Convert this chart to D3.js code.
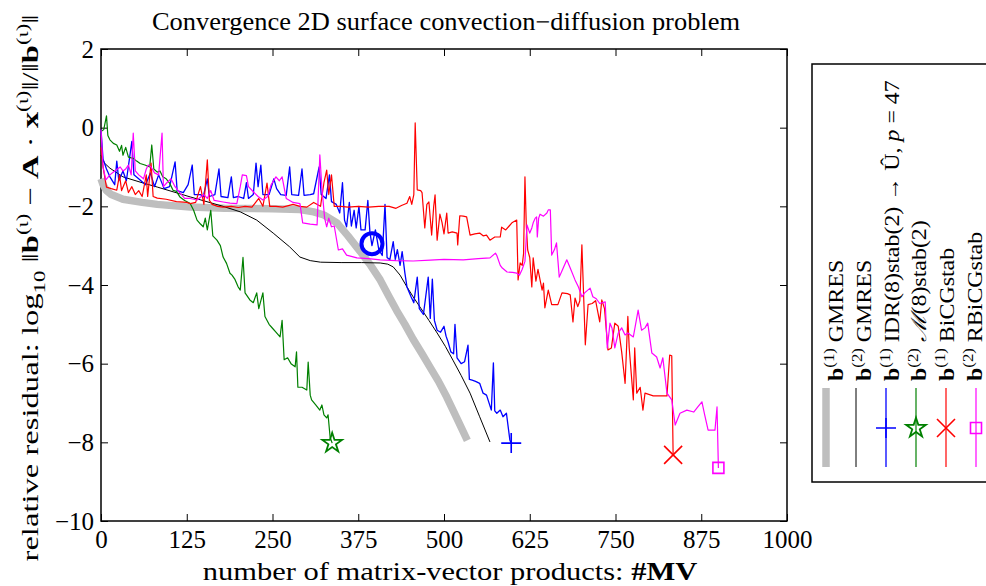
<!DOCTYPE html>
<html><head><meta charset="utf-8">
<script src="https://cdn.jsdelivr.net/npm/d3@7"></script>
<style>body{margin:0;background:#fff}svg{display:block}text{font-family:"Liberation Serif","Times New Roman",serif;fill:#000}</style>
</head><body><div id="chart"></div>
<script>
const xTicks = [0,125,250,375,500,625,750,875,1000];
const yTicks = [2,0,-2,-4,-6,-8,-10];

const gmresB1 = [[0,-1.3],[3,-1.45],[8,-1.6],[15,-1.7],[32,-1.82],[60,-1.9],[82,-1.95],[130,-2.02],[180,-2.05],[250,-2.06],[290,-2.08],[310,-2.14],[325,-2.22],[344,-2.42],[360,-2.75],[378,-3.15],[393,-3.5],[407,-3.87],[420,-4.3],[431,-4.65],[443,-5.0],[455,-5.38],[468,-5.75],[480,-6.1],[492,-6.45],[504,-6.85],[519,-7.4],[534,-7.95]];

const gmresB2 = [[0,-0.7],[5,-0.9],[13,-1.03],[32,-1.25],[60,-1.4],[82,-1.51],[130,-1.76],[178,-2.0],[203,-2.14],[227,-2.35],[251,-2.68],[275,-3.03],[290,-3.29],[305,-3.38],[320,-3.42],[350,-3.43],[380,-3.43],[407,-3.44],[418,-3.47],[426,-3.54],[436,-3.75],[446,-4.05],[455,-4.3],[465,-4.56],[478,-4.9],[490,-5.22],[502,-5.56],[513,-5.91],[525,-6.3],[538,-6.75],[552,-7.35],[567,-7.99]];

const idrB1 = [[0,-0.05],[3,-0.8],[8,-1.05],[13,-1.25],[20,-1.45],[23,-0.85],[26,-1.35],[32,-1.1],[37,-1.35],[45,-0.35],[48,-1.2],[57,-1.33],[65,-1.45],[72,-1.15],[78,-1.5],[84,-1.2],[92,-1.55],[100,-1.5],[108,-0.87],[111,-1.6],[120,-1.65],[127,-1.45],[133,-0.95],[136,-1.7],[145,-1.7],[149,-1.76],[155,-1.3],[158,-1.75],[166,-1.7],[172,-1.05],[175,-1.75],[185,-1.78],[190,-1.25],[193,-1.78],[200,-1.75],[208,-1.8],[212,-1.4],[215,-1.8],[222,-1.7],[226,-0.9],[229,-1.5],[233,-0.95],[236,-1.7],[245,-1.7],[252,-1.3],[256,-1.55],[262,-1.7],[270,-1.72],[275,-1.0],[278,-1.7],[288,-1.72],[293,-1.05],[296,-1.72],[305,-1.7],[310,-1.68],[318,-1.0],[321,-1.7],[328,-1.8],[333,-1.2],[336,-1.88],[343,-1.95],[348,-2.17],[352,-1.4],[355,-2.35],[358,-2.52],[362,-1.9],[365,-2.5],[369,-2.1],[372,-2.55],[376,-2.0],[379,-2.6],[385,-2.6],[389,-1.85],[392,-2.65],[395,-3.0],[400,-2.6],[405,-3.1],[410,-3.25],[414,-1.95],[417,-3.3],[421,-3.36],[426,-2.9],[429,-3.35],[432,-3.1],[436,-3.5],[439,-3.15],[443,-3.7],[446,-4.05],[452,-4.3],[456,-4.45],[461,-3.8],[464,-4.6],[470,-4.75],[477,-3.8],[480,-4.85],[483,-3.85],[486,-4.9],[490,-5.15],[495,-5.2],[500,-5.05],[503,-5.3],[506,-5.45],[510,-5.7],[514,-5.75],[516,-5.0],[519,-5.85],[525,-6.0],[530,-5.95],[535,-5.53],[537,-6.4],[541,-6.42],[546,-6.45],[552,-6.5],[557,-6.75],[562,-6.8],[569,-7.18],[572,-5.98],[574,-7.2],[577,-7.26],[582,-7.18],[586,-7.35],[591,-7.26],[596,-7.94],[598,-8.02]];

const mstabB2 = [[0,-0.1],[4,-0.05],[8,0.3],[10,-0.2],[13,-0.31],[18,-0.4],[23,-0.44],[27,-0.6],[30,-0.45],[32,-0.7],[36,-0.5],[40,-0.75],[47,-0.78],[52,-0.85],[57,-0.91],[64,-0.95],[71,-1.0],[74,-0.44],[77,-1.05],[82,-1.13],[86,-1.1],[90,-1.25],[95,-1.3],[100,-1.41],[105,-1.59],[110,-1.62],[115,-1.76],[122,-1.85],[130,-1.93],[135,-2.1],[140,-2.35],[145,-2.45],[149,-2.52],[152,-2.3],[155,-2.6],[160,-2.1],[163,-2.75],[169,-2.86],[174,-3.0],[178,-3.29],[183,-3.45],[188,-3.7],[191,-3.75],[195,-3.85],[200,-4.05],[203,-4.13],[207,-3.3],[210,-4.2],[217,-4.38],[222,-4.45],[227,-4.2],[230,-4.6],[236,-4.2],[239,-4.8],[245,-5.0],[250,-5.1],[255,-5.2],[261,-5.32],[264,-4.9],[267,-5.9],[272,-5.85],[277,-6.0],[283,-6.08],[285,-5.7],[287,-6.6],[293,-6.6],[300,-6.67],[302,-5.96],[305,-6.8],[307,-6.92],[313,-7.05],[319,-7.18],[322,-7.05],[325,-7.3],[329,-7.38],[331,-7.3],[334,-7.87],[337,-8.02]];

const bicgB1 = [[0,-0.5],[3,-1.0],[8,-1.51],[15,-1.55],[23,-1.59],[27,-1.2],[30,-1.6],[36,-1.35],[40,-1.65],[45,-1.5],[50,-1.7],[55,-1.6],[60,-1.75],[66,-1.2],[68,-1.75],[73,-0.9],[76,-1.75],[82,-1.79],[95,-1.82],[110,-1.88],[125,-1.9],[130,-1.93],[138,-1.9],[145,-1.5],[150,-1.95],[155,-0.82],[158,-1.85],[162,-1.95],[170,-2.0],[178,-2.02],[190,-2.0],[200,-2.03],[210,-2.0],[220,-2.02],[230,-1.8],[236,-2.0],[242,-1.41],[246,-2.0],[255,-2.0],[265,-2.02],[280,-1.95],[290,-2.0],[300,-2.02],[310,-1.9],[320,-2.0],[325,-1.4],[329,-1.08],[332,-1.7],[336,-1.2],[340,-2.0],[350,-2.0],[360,-2.02],[375,-2.0],[390,-2.02],[405,-2.0],[420,-2.0],[430,-2.05],[438,-1.98],[446,-1.92],[450,-1.75],[453,-1.95],[456,-1.7],[458,0.12],[461,-1.58],[466,-1.6],[468,-1.65],[472,-2.55],[475,-1.95],[478,-1.89],[482,-2.73],[485,-2.0],[487,-1.71],[490,-2.86],[494,-2.2],[497,-2.4],[500,-2.7],[504,-2.17],[506,-2.68],[512,-2.65],[519,-2.68],[520,-2.98],[523,-2.24],[528,-2.25],[533,-2.27],[538,-2.73],[545,-2.7],[552,-2.68],[557,-2.75],[562,-2.73],[567,-2.86],[574,-2.78],[582,-2.78],[584,-2.53],[590,-2.6],[595,-2.5],[599,-2.42],[606,-2.35],[608,-3.87],[611,-3.44],[614,-3.5],[616,-3.2],[618,-1.25],[620,-2.5],[622,-3.11],[625,-3.3],[628,-4.05],[630,-3.31],[634,-3.9],[637,-3.6],[643,-4.13],[645,-3.95],[647,-4.58],[652,-4.13],[657,-4.5],[666,-4.5],[672,-4.2],[680,-4.22],[684,-4.25],[688,-4.94],[691,-4.33],[695,-4.55],[698,-4.4],[701,-2.98],[706,-5.52],[710,-4.5],[716,-4.47],[721,-4.4],[727,-4.94],[730,-4.38],[734,-4.6],[739,-5.65],[744,-5.6],[749,-4.97],[754,-5.05],[759,-5.7],[764,-6.5],[768,-4.8],[770,-5.6],[776,-6.92],[778,-5.6],[781,-6.75],[786,-6.6],[790,-7.18],[793,-6.75],[805,-6.82],[825,-6.82],[829,-5.78],[832,-5.8],[834,-8.32]];

const rbicgB2 = [[0,-0.05],[3,-1.0],[7,-1.33],[13,-1.2],[20,-1.1],[28,-1.0],[32,-1.1],[36,-1.05],[40,-0.95],[44,-1.2],[47,-0.14],[50,-1.1],[55,-1.2],[62,-1.3],[66,-1.05],[69,-0.95],[73,-1.0],[78,-1.15],[84,-1.2],[89,-0.14],[91,-1.5],[96,-1.4],[102,-1.3],[108,-1.5],[115,-1.66],[122,-1.8],[130,-1.8],[140,-1.84],[150,-1.7],[155,-1.8],[160,-1.6],[165,-1.85],[178,-1.89],[188,-1.92],[198,-1.93],[203,-1.5],[206,-1.2],[212,-1.22],[215,-1.5],[222,-1.63],[229,-1.75],[236,-1.84],[243,-1.75],[248,-1.45],[255,-1.25],[260,-1.35],[264,-1.25],[270,-1.8],[280,-1.9],[290,-1.93],[294,-2.42],[305,-2.45],[315,-2.47],[319,-0.69],[322,-1.53],[326,-2.3],[329,-2.52],[332,-2.3],[336,-2.52],[340,-2.5],[346,-3.11],[352,-3.08],[358,-3.24],[373,-3.31],[390,-3.33],[407,-3.36],[430,-3.38],[455,-3.39],[480,-3.37],[500,-3.35],[528,-3.36],[550,-3.33],[567,-3.31],[575,-3.19],[577,-3.25],[582,-3.5],[585,-3.57],[592,-3.67],[600,-3.68],[606,-3.7],[610,-3.75],[614,-3.6],[618,-3.4],[621,-2.47],[625,-2.68],[628,-2.55],[630,-2.42],[633,-2.3],[635,-2.27],[636,-2.78],[638,-2.3],[640,-2.2],[645,-2.25],[650,-2.17],[652,-2.09],[655,-2.09],[657,-3.24],[661,-3.1],[664,-2.93],[668,-3.8],[673,-3.6],[679,-3.36],[684,-3.57],[691,-3.87],[696,-4.05],[701,-4.3],[705,-4.2],[713,-4.08],[717,-4.3],[722,-4.35],[727,-4.47],[735,-4.43],[738,-5.6],[742,-4.97],[745,-5.1],[749,-5.6],[754,-5.22],[759,-5.09],[764,-5.27],[768,-5.22],[776,-5.32],[783,-4.64],[788,-5.15],[793,-5.09],[797,-4.97],[803,-5.73],[810,-5.83],[815,-6.11],[819,-5.85],[825,-6.75],[832,-6.92],[837,-7.56],[844,-7.26],[854,-7.18],[864,-7.23],[870,-7.1],[876,-6.97],[880,-7.3],[885,-7.69],[895,-7.69],[898,-7.1],[900,-8.65]];

const switchPoint = [395, -2.95];

const W = 986, H = 586;
const svg = d3.select("#chart").append("svg").attr("width", W).attr("height", H);
const x = d3.scaleLinear().domain([0, 1000]).range([101, 787]);
const y = d3.scaleLinear().domain([-10, 2]).range([521, 49]);

function rich(sel, parts, size) {
  let shift = 0;
  parts.forEach(p => {
    const target = p.sup ? -0.42 * size : p.sub ? 0.3 * size : 0;
    const ts = sel.append("tspan").attr("dy", target - shift).text(p.t);
    shift = target;
    if (p.sup || p.sub) ts.attr("font-size", size * 0.7);
    if (p.b) ts.attr("font-weight", "bold");
    if (p.i) ts.attr("font-style", "italic");
  });
}

// axes
const tick = 7;
const gx = svg.append("g").attr("transform", "translate(0,521)")
  .call(d3.axisBottom(x).tickValues(xTicks).tickSizeInner(-tick).tickSizeOuter(0).tickPadding(9).tickFormat(d3.format("d")));
const gxt = svg.append("g").attr("transform", "translate(0,49)")
  .call(d3.axisTop(x).tickValues(xTicks).tickSizeInner(-tick).tickSizeOuter(0).tickFormat(""));
const gy = svg.append("g").attr("transform", "translate(101,0)")
  .call(d3.axisLeft(y).tickValues(yTicks).tickSizeInner(-tick).tickSizeOuter(0).tickPadding(7).tickFormat(d3.format("d")));
const gyr = svg.append("g").attr("transform", "translate(787,0)")
  .call(d3.axisRight(y).tickValues(yTicks).tickSizeInner(-tick).tickSizeOuter(0).tickFormat(""));
[gx, gxt, gy, gyr].forEach(g => {
  g.select(".domain").remove();
  g.selectAll(".tick line").attr("stroke", "#000").attr("stroke-width", 1);
  g.selectAll(".tick text").attr("font-family", "Liberation Serif").attr("font-size", 25).attr("fill", "#000");
});
svg.append("rect").attr("x", 101).attr("y", 49).attr("width", 686).attr("height", 472)
  .attr("fill", "none").attr("stroke", "#000").attr("stroke-width", 1.5);

const line = d3.line().x(d => x(d[0])).y(d => y(d[1]));
const plot = svg.append("g");
const series = [
  {data: gmresB1, color: "#bebebe", w: 7.5},
  {data: gmresB2, color: "#000", w: 1},
  {data: idrB1, color: "#0000ff", w: 1.3},
  {data: mstabB2, color: "#008000", w: 1.2},
  {data: bicgB1, color: "#ff0000", w: 1.2},
  {data: rbicgB2, color: "#ff00ff", w: 1.2}
];
series.forEach(s => plot.append("path").attr("d", line(s.data)).attr("fill", "none")
  .attr("stroke", s.color).attr("stroke-width", s.w).attr("stroke-linejoin", "round"));

// markers
const plusPath = "M-10,0H10M0,-10V10";
const xPath = "M-9,-9L9,9M-9,9L9,-9";
const starPath = d3.symbol(d3.symbolStar, 120)();
const sqPath = "M-5.5,-5.5H5.5V5.5H-5.5Z";
function mark(path, c, px, py, w) {
  svg.append("path").attr("d", path).attr("transform", `translate(${px},${py})`)
    .attr("fill", "none").attr("stroke", c).attr("stroke-width", w);
}
mark(plusPath, "#0000ff", x(idrB1[idrB1.length-1][0]), y(idrB1[idrB1.length-1][1]), 1.6);
mark(starPath, "#008000", x(mstabB2[mstabB2.length-1][0]), y(mstabB2[mstabB2.length-1][1]), 1.8);
mark(xPath, "#ff0000", x(bicgB1[bicgB1.length-1][0]), y(bicgB1[bicgB1.length-1][1]), 1.6);
mark(sqPath, "#ff00ff", x(rbicgB2[rbicgB2.length-1][0]), y(rbicgB2[rbicgB2.length-1][1]), 1.6);
svg.append("circle").attr("cx", x(switchPoint[0])).attr("cy", y(switchPoint[1])).attr("r", 10.5)
  .attr("fill", "none").attr("stroke", "#0000ff").attr("stroke-width", 4);

// title
rich(svg.append("text").attr("transform", "translate(446,30) scale(1.15,1.05)").attr("text-anchor", "middle").attr("font-size", 23),
  [{t: "Convergence 2D surface convection\u2212diffusion problem"}], 23);

// x label
rich(svg.append("text").attr("transform", "translate(450,580) scale(1.22,1)").attr("text-anchor", "middle").attr("font-size", 25),
  [{t: "number of matrix-vector products: "}, {t: "#MV", b: true}], 25);

// y label
const yl = svg.append("text").attr("transform", "translate(38,288) rotate(-90) scale(1.36,1)").attr("text-anchor", "middle").attr("font-size", 24);
rich(yl, [{t: "relative residual: log"}, {t: "10", sub: true}, {t: " \u2016"}, {t: "b", b: true}, {t: "(\u03b9)", sup: true},
  {t: " \u2212 "}, {t: "A", b: true}, {t: " \u00b7 "}, {t: "x", b: true}, {t: "(\u03b9)", sup: true}, {t: "\u2016/\u2016"},
  {t: "b", b: true}, {t: "(\u03b9)", sup: true}, {t: "\u2016"}], 24);

// legend
svg.append("rect").attr("x", 812).attr("y", 64).attr("width", 200).attr("height", 418)
  .attr("fill", "#fff").attr("stroke", "#000").attr("stroke-width", 1.5);
const legItems = [
  {c: "#bebebe", w: 7.5, m: null, parts: [{t: "b", b: true}, {t: "(1)", sup: true}, {t: " GMRES"}]},
  {c: "#000", w: 1, m: null, parts: [{t: "b", b: true}, {t: "(2)", sup: true}, {t: " GMRES"}]},
  {c: "#0000ff", w: 1.3, m: plusPath, parts: [{t: "b", b: true}, {t: "(1)", sup: true}, {t: " IDR(8)stab(2) \u2192 \u00db, "}, {t: "p", i: true}, {t: " = 47"}]},
  {c: "#008000", w: 1.2, m: starPath, parts: [{t: "b", b: true}, {t: "(2)", sup: true}, {t: " "}, {t: "\u2133", i: true}, {t: "(8)stab(2)"}]},
  {c: "#ff0000", w: 1.2, m: xPath, parts: [{t: "b", b: true}, {t: "(1)", sup: true}, {t: " BiCGstab"}]},
  {c: "#ff00ff", w: 1.2, m: sqPath, parts: [{t: "b", b: true}, {t: "(2)", sup: true}, {t: " RBiCGstab"}]}
];
legItems.forEach((it, i) => {
  const lx = 826 + i * 30;
  svg.append("line").attr("x1", lx).attr("x2", lx).attr("y1", 388).attr("y2", 467)
    .attr("stroke", it.c).attr("stroke-width", it.w);
  if (it.m) mark(it.m, it.c, lx, 428, it.m === starPath ? 1.8 : 1.6);
  const t = svg.append("text").attr("transform", `translate(${843 + i * 27.8},381) rotate(-90) scale(1.14,1)`).attr("font-size", 21);
  rich(t, it.parts, 21);
});
</script></body></html>
